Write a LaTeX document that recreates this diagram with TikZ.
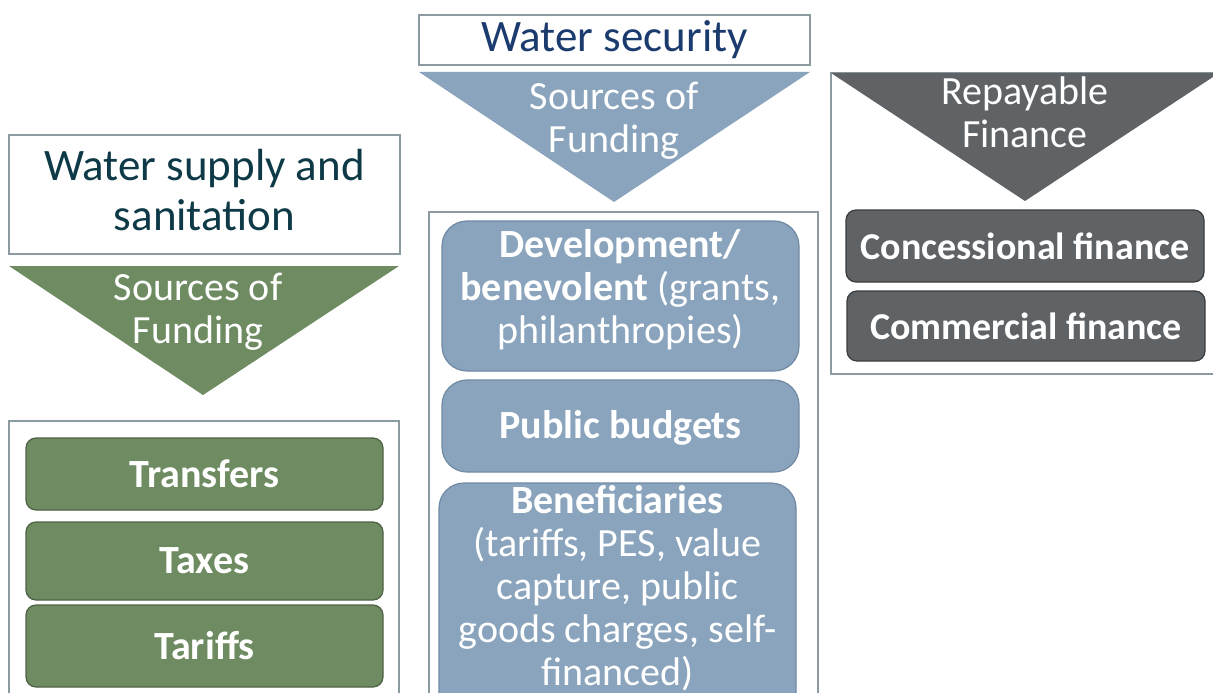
\documentclass[tikz,border=0pt]{standalone}
\usepackage{fontspec}
\setmainfont{Carlito}
\definecolor{greenfill}{HTML}{6E8B61}
\definecolor{greenedge}{HTML}{4E6145}
\definecolor{bluefill}{HTML}{89A4BC}
\definecolor{blueedge}{HTML}{6F8AA2}
\definecolor{grayfill}{HTML}{5F6366}
\definecolor{grayedge}{HTML}{3A3D40}
\definecolor{frameline}{HTML}{8C9AA2}
\definecolor{titleteal}{HTML}{0E3A47}
\definecolor{titleblue}{HTML}{1B3A6E}
\begin{document}
\begin{tikzpicture}[x=1pt,y=-1pt,
  titlebox/.style={draw=frameline, line width=1.2pt, fill=white, inner sep=0pt, align=center,
    font=\fontsize{45}{50}\selectfont},
  framebox/.style={draw=frameline, line width=1.2pt},
  srctext/.style={text=white, align=center, inner sep=0pt, font=\fontsize{40}{43}\selectfont},
  itembox/.style={rounded corners=10pt, line width=1.2pt, text=white, align=center, inner sep=0pt,
    font=\fontsize{40}{43}\selectfont\bfseries},
  greenbox/.style={itembox, fill=greenfill, draw=greenedge, minimum width=357pt},
  bluebox/.style={itembox, fill=bluefill, draw=blueedge, rounded corners=25pt, minimum width=357pt},
  graybox/.style={itembox, fill=grayfill, draw=grayedge, minimum width=358pt,
    font=\fontsize{38}{41}\selectfont\bfseries},
  boxtext/.style={text=white, align=center, inner sep=0pt, font=\fontsize{40}{43}\selectfont}
]
\useasboundingbox (0,0) rectangle (1213,693);
\clip (0,0) rectangle (1213,693);
\fill[white] (0,0) rectangle (1213,693);

% ---------- left column ----------
\draw[framebox, fill=white] (9,135) rectangle (400,254);
\node[text=titleteal, align=center, inner sep=0pt, font=\fontsize{45}{50}\selectfont] (wss) at (204.5,190) {Water supply and\\sanitation};
\fill[greenfill] (9,266) -- (399,266) -- (203,395) -- cycle;
\node[srctext] (lsrc) at (198,312) {Sources of\\Funding};
\draw[framebox] (9,421) rectangle (399,720);
\node[greenbox, minimum height=72pt] (transfers) at (204.5,474) {Transfers};
\node[greenbox, minimum height=78pt] (taxes) at (204.5,561) {Taxes};
\node[greenbox, minimum height=82pt] (tariffs) at (204.5,646) {Tariffs};

% ---------- middle column ----------
\node[titlebox, text=titleblue, minimum width=391pt, minimum height=50pt] (ws) at (614.5,40) {Water security};
\fill[bluefill] (419,72) -- (810,72) -- (614,202) -- cycle;
\node[srctext] (msrc) at (614,121) {Sources of\\Funding};
\draw[framebox] (429,212) rectangle (818,720);
\node[bluebox, minimum height=150pt] (dev) at (620.5,296) {};
\node[boxtext] (devtext) at (620.5,290)
  {\textbf{Development/}\\\textbf{benevolent} (grants,\\philanthropies)};
\node[bluebox, minimum height=92pt] (pub) at (620.5,426) {};
\node[boxtext, font=\fontsize{40}{43}\selectfont\bfseries] (pubtext) at (620.5,428) {Public budgets};
\node[bluebox, minimum height=240pt] (benef) at (617.5,603) {};
\node[boxtext] (beneftext) at (617.5,588)
  {\textbf{Beneficiaries}\\(tariffs, PES, value\\capture, public\\goods charges, self-\\financed)};

% ---------- right column ----------
\draw[framebox] (831,73) rectangle (1240,374);
\fill[grayfill] (831,73) -- (1219,73) -- (1025,201) -- cycle;
\node[srctext] (rsrc) at (1025,112) {Repayable\\Finance};
\node[graybox, minimum height=72pt] (conc) at (1025,246) {Concessional finance};
\node[graybox, minimum height=70pt] (comm) at (1026,326) {Commercial finance};
\end{tikzpicture}
\end{document}
